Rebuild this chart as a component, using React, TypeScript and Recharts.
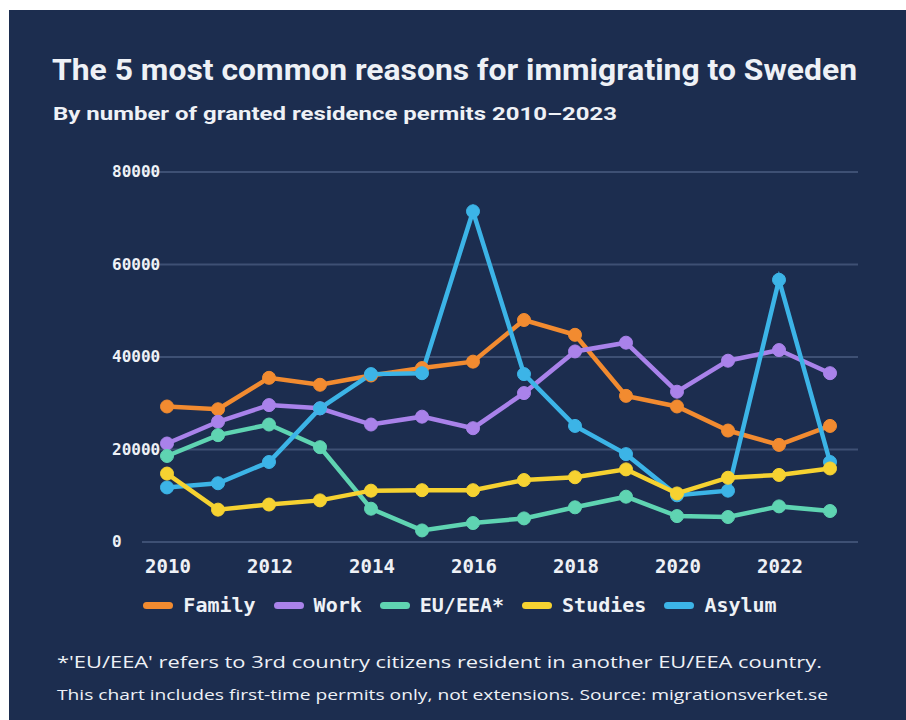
import React from 'react';
import { LineChart, Line, XAxis, YAxis, CartesianGrid } from 'recharts';

const years = [2010, 2011, 2012, 2013, 2014, 2015, 2016, 2017, 2018, 2019, 2020, 2021, 2022, 2023];
const family = [29300, 28700, 35500, 34000, 36000, 37600, 39000, 48000, 44800, 31600, 29300, 24100, 21000, 25100];
const work = [21300, 26000, 29600, 28900, 25400, 27100, 24600, 32200, 41200, 43100, 32500, 39200, 41500, 36500];
const euEea = [18600, 23100, 25400, 20500, 7200, 2500, 4100, 5100, 7500, 9800, 5600, 5400, 7700, 6700];
const studies = [14800, 7000, 8100, 9000, 11100, 11200, 11200, 13400, 14000, 15700, 10500, 13900, 14500, 15900];
const asylum = [11800, 12700, 17300, 28900, 36300, 36500, 71500, 36300, 25100, 19000, 10100, 11100, 56700, 17300];

const yTicks = [0, 20000, 40000, 60000, 80000];
const xTicks = [2010, 2012, 2014, 2016, 2018, 2020, 2022];

const seriesNames = ['Family', 'Work', 'EU/EEA*', 'Studies', 'Asylum'];
const seriesKeys = ['family', 'work', 'euEea', 'studies', 'asylum'];
const seriesColors = ['#f28b30', '#a982ea', '#5fd4b2', '#f6d231', '#3cb4e7'];
const drawOrder = [0, 1, 2, 4, 3];

const title = 'The 5 most common reasons for immigrating to Sweden';
const subtitle = 'By number of granted residence permits 2010\u20132023';
const note1 = "*'EU/EEA' refers to 3rd country citizens resident in another EU/EEA country.";
const note2 = 'This chart includes first-time permits only, not extensions. Source: migrationsverket.se';

const data = years.map((year, i) => ({
  year,
  family: family[i],
  work: work[i],
  euEea: euEea[i],
  studies: studies[i],
  asylum: asylum[i],
}));

const BG = '#1c2d4f';
const TEXT = '#eef1f6';
const MONO = '"DejaVu Sans Mono", monospace';

const YTick = (props: any) => {
  const { y, payload } = props;
  return (
    <text x={112} y={y} dy={5} textAnchor="start" fill={TEXT} fontFamily={MONO} fontWeight={700} fontSize={16}>
      {payload.value}
    </text>
  );
};

const XTick = (props: any) => {
  const { x, y, payload } = props;
  return (
    <text x={x + 1} y={y} dy={23} textAnchor="middle" fill={TEXT} fontFamily={MONO} fontWeight={700} fontSize={19}>
      {payload.value}
    </text>
  );
};

export default function App() {
  return (
    <div style={{ position: 'absolute', left: 0, top: 0, width: 906, height: 720, background: '#ffffff', overflow: 'hidden' }}>
      <div style={{ position: 'absolute', left: 9, top: 10, width: 897, height: 710, background: BG }} />
      <svg width={906} height={720} style={{ position: 'absolute', left: 0, top: 0 }}>
        <text x={52} y={80} fill={TEXT} fontFamily="Roboto, sans-serif" fontWeight={700} fontSize={30} textLength={805} lengthAdjust="spacingAndGlyphs">
          {title}
        </text>
        <text x={53} y={120} fill={TEXT} fontFamily="Roboto, sans-serif" fontWeight={700} fontSize={19} textLength={564} lengthAdjust="spacingAndGlyphs">
          {subtitle}
        </text>
        <text x={57} y={668} fill={TEXT} fontFamily='"Open Sans", sans-serif' fontWeight={400} fontSize={16} textLength={765} lengthAdjust="spacingAndGlyphs">
          {note1}
        </text>
        <text x={57} y={700} fill={TEXT} fontFamily='"Open Sans", sans-serif' fontWeight={400} fontSize={14.5} textLength={771} lengthAdjust="spacingAndGlyphs">
          {note2}
        </text>
      </svg>
      <div style={{ position: 'absolute', left: 0, top: 0 }}>
        <LineChart width={906} height={720} data={data} margin={{ top: 172, right: 48, bottom: 138, left: 112 }}>
          <CartesianGrid vertical={false} stroke="#3e5074" strokeWidth={2} />
          <XAxis
            dataKey="year"
            type="number"
            domain={[2010, 2023]}
            ticks={xTicks}
            padding={{ left: 25, right: 28 }}
            axisLine={false}
            tickLine={false}
            height={40}
            tick={<XTick />}
            interval={0}
          />
          <YAxis
            domain={[0, 80000]}
            ticks={yTicks}
            axisLine={false}
            tickLine={false}
            width={30}
            tick={<YTick />}
            interval={0}
          />
          {drawOrder.map((i) => (
            <Line
              key={seriesKeys[i]}
              type="linear"
              dataKey={seriesKeys[i]}
              stroke={seriesColors[i]}
              strokeWidth={4.5}
              dot={{ r: 6.5, fill: seriesColors[i], stroke: seriesColors[i], strokeWidth: 1 }}
              activeDot={false}
              isAnimationActive={false}
            />
          ))}
        </LineChart>
      </div>
      <div style={{ position: 'absolute', left: 7, top: 592, width: 906, display: 'flex', justifyContent: 'center', gap: 18 }}>
        {seriesNames.map((name, i) => (
          <div key={name} style={{ display: 'flex', alignItems: 'center', gap: 10 }}>
            <div style={{ width: 30, height: 7, borderRadius: 4, background: seriesColors[i] }} />
            <span style={{ color: TEXT, fontFamily: MONO, fontWeight: 700, fontSize: 20, lineHeight: '26px' }}>{name}</span>
          </div>
        ))}
      </div>
    </div>
  );
}
